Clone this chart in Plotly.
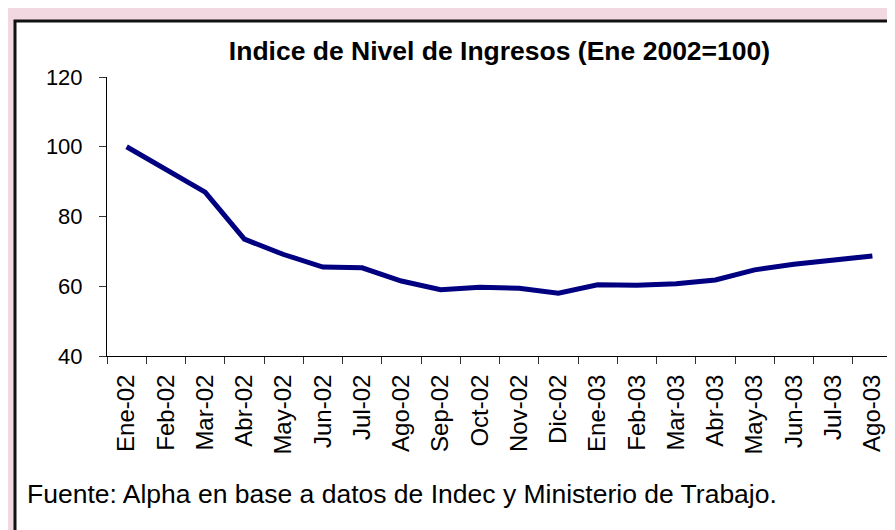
import plotly.graph_objects as go

months = ["Ene-02", "Feb-02", "Mar-02", "Abr-02", "May-02", "Jun-02", "Jul-02",
          "Ago-02", "Sep-02", "Oct-02", "Nov-02", "Dic-02", "Ene-03", "Feb-03",
          "Mar-03", "Abr-03", "May-03", "Jun-03", "Jul-03", "Ago-03"]
index_values = [100.0, 93.5, 87.0, 73.5, 69.1, 65.5, 65.3, 61.5, 59.0, 59.7,
                59.4, 58.0, 60.4, 60.3, 60.7, 61.8, 64.7, 66.3, 67.5, 68.7]
y_ticks = [40, 60, 80, 100, 120]

title_text = "Indice de Nivel de Ingresos (Ene 2002=100)"
footer_text = "Fuente: Alpha en base a datos de Indec y Ministerio de Trabajo."

W, H = 895, 530
L, R, T, B = 99, 11, 69, 182
pw, ph = W - L - R, H - T - B

def px_x(p):
    return (p - L) / pw

def px_y(p):
    return (H - B - p) / ph

FONT = "Liberation Sans, Arial, sans-serif"

fig = go.Figure()
fig.add_trace(go.Scatter(
    x=months, y=index_values, mode="lines",
    line=dict(color="#000080", width=5),
    hoverinfo="x+y", showlegend=False,
))

fig.add_shape(type="rect", xref="paper", yref="paper",
              x0=px_x(7), x1=px_x(910), y0=px_y(13), y1=px_y(545),
              fillcolor="white", line=dict(color="#111111", width=3), layer="below")

fig.add_annotation(text=footer_text, xref="paper", yref="paper",
                   x=px_x(17), y=px_y(486), xanchor="left", yanchor="middle",
                   showarrow=False, font=dict(family=FONT, size=26.5, color="black"))

fig.update_layout(
    template="none",
    width=W, height=H,
    margin=dict(l=L, r=R, t=T, b=B, pad=0, autoexpand=False),
    paper_bgcolor="#F1D8E1",
    plot_bgcolor="white",
    font=dict(family=FONT, color="black"),
    title=dict(text="<b>" + title_text + "</b>", xref="paper", x=0.5, xanchor="center",
               yref="container", y=1 - 43 / H, yanchor="middle",
               font=dict(family=FONT, size=26.5, color="black")),
    xaxis=dict(
        type="category", categoryorder="array", categoryarray=months,
        tickmode="array", tickvals=months, ticktext=months,
        tickson="boundaries", ticks="outside", ticklen=7, tickcolor="#333333",
        tickangle=-90, tickfont=dict(family=FONT, size=24, color="black"),
        ticklabelstandoff=8, automargin=False,
        showline=True, linecolor="black", linewidth=1,
        showgrid=False, zeroline=False, range=[-0.5, len(months) - 0.5],
    ),
    yaxis=dict(
        range=[40, 120], tickmode="array", tickvals=y_ticks,
        ticks="outside", ticklen=7, tickcolor="#333333",
        tickfont=dict(family=FONT, size=22, color="black"),
        ticklabelstandoff=12, automargin=False,
        showline=True, linecolor="black", linewidth=1,
        showgrid=False, zeroline=False,
    ),
)

fig.write_html("out.html")
